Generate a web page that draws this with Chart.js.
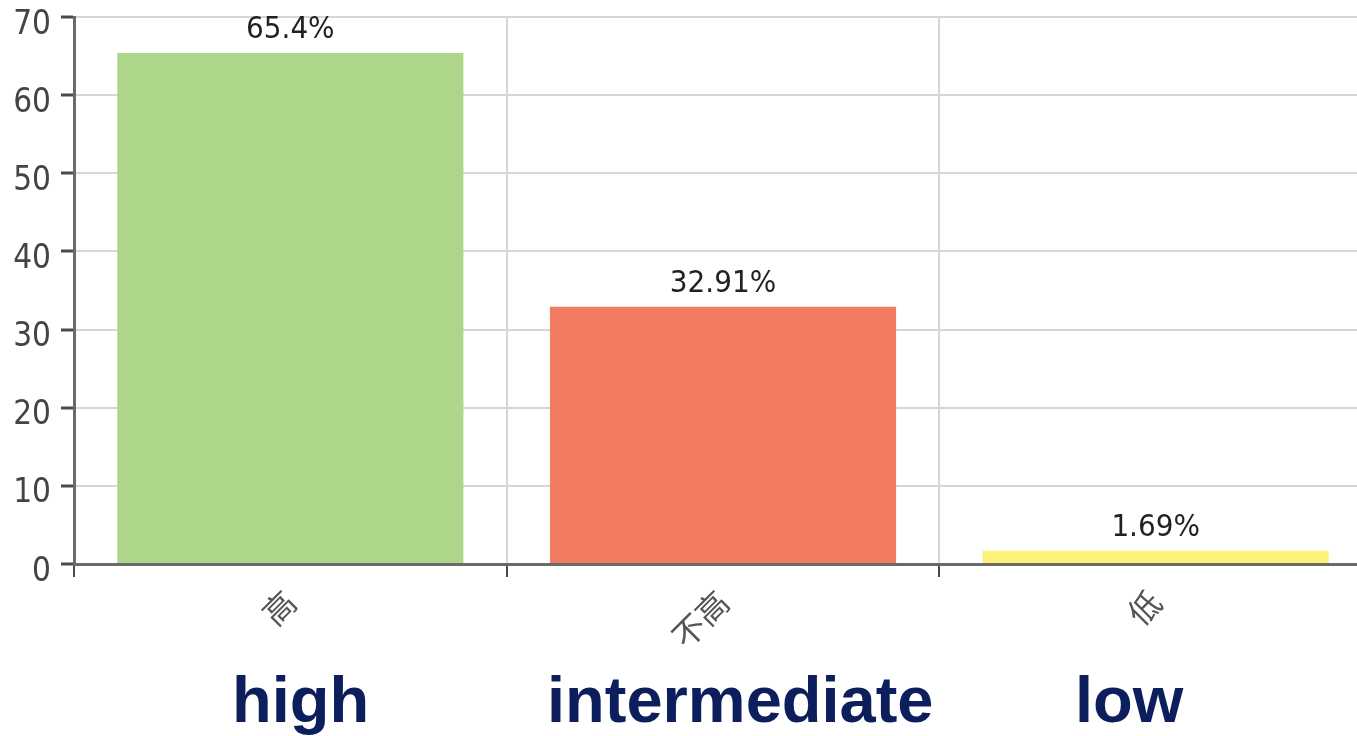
<!DOCTYPE html>
<html>
<head>
<meta charset="utf-8">
<script src="https://cdn.jsdelivr.net/npm/chart.js@4.4.0/dist/chart.umd.min.js"></script>
<style>
  html, body { margin: 0; padding: 0; background: #fff; overflow: hidden; }
  #wrap { position: relative; width: 1357px; height: 736px; overflow: hidden; }
  #box { position: absolute; left: 0; top: 0; width: 1372px; height: 664px; }
  .en {
    position: absolute; top: 667px; line-height: 65px;
    font-family: "Liberation Sans", Arial, sans-serif; font-weight: bold;
    font-size: 65px; color: #0c1f5c; white-space: nowrap;
  }
</style>
</head>
<body>
<div id="wrap">
  <div id="box"><canvas id="c"></canvas></div>
  <div class="en" style="left:232px">high</div>
  <div class="en" style="left:547px">intermediate</div>
  <div class="en" style="left:1075px">low</div>
</div>
<script>
// Share of cases in each grade (%)
const categories = ['高', '不高', '低'];
const shares = [65.4, 32.91, 1.69];
const shareLabels = ['65.4%', '32.91%', '1.69%'];
const yTickValues = [0, 10, 20, 30, 40, 50, 60, 70];

const numFont = '"DejaVu Sans Condensed", "DejaVu Sans", sans-serif';

// Writes each bar's percentage just above it
const valueLabels = {
  id: 'valueLabels',
  afterDatasetsDraw(chart) {
    const ctx = chart.ctx;
    const meta = chart.getDatasetMeta(0);
    ctx.save();
    ctx.font = '31px ' + numFont;
    ctx.fillStyle = '#222';
    ctx.textAlign = 'center';
    ctx.textBaseline = 'bottom';
    meta.data.forEach((bar, i) => {
      ctx.fillText(shareLabels[i], bar.x, bar.y - 7);
    });
    ctx.restore();
  }
};

new Chart(document.getElementById('c'), {
  type: 'bar',
  data: {
    labels: categories,
    datasets: [{
      data: shares,
      backgroundColor: ['#add68a', '#f27a5e', '#fcf278'],
      borderWidth: 0,
      barPercentage: 0.8,
      categoryPercentage: 1.0
    }]
  },
  options: {
    responsive: true,
    maintainAspectRatio: false,
    animation: false,
    devicePixelRatio: 1,
    layout: { padding: 0 },
    plugins: { legend: { display: false }, tooltip: { enabled: false } },
    scales: {
      x: {
        grid: {
          offset: true,
          color: '#d6d6d6',
          lineWidth: 2,
          tickColor: '#4a4a4a',
          tickWidth: 2,
          tickLength: 13
        },
        border: { color: '#6a6a6a', width: 3 },
        ticks: {
          color: '#555',
          font: { family: '"Noto Sans CJK SC", sans-serif', size: 32 },
          minRotation: 45,
          maxRotation: 45,
          padding: 6
        },
        afterFit(scale) { scale.height = 100; }
      },
      y: {
        min: 0,
        max: 70,
        afterBuildTicks(scale) { scale.ticks = yTickValues.map(v => ({ value: v })); },
        grid: {
          color: '#d6d6d6',
          lineWidth: 2,
          tickColor: '#4a4a4a',
          tickWidth: 3,
          tickLength: 13
        },
        border: { color: '#6a6a6a', width: 3 },
        ticks: {
          color: '#444',
          font: { family: numFont, size: 33 },
          padding: 10,
          labelOffset: 8
        },
        afterFit(scale) {
          scale.width = 74;
          scale.paddingTop = 17;
          scale.paddingBottom = 0;
        }
      }
    }
  },
  plugins: [valueLabels]
});
</script>
</body>
</html>
